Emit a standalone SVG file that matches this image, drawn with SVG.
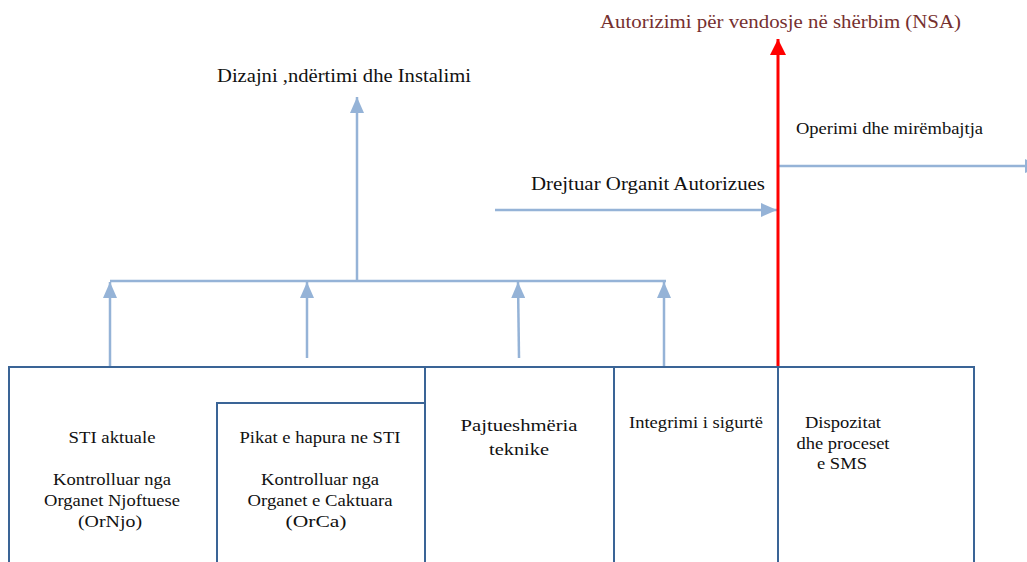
<svg xmlns="http://www.w3.org/2000/svg" width="1027" height="562" viewBox="0 0 1027 562">
<style>
.box{fill:none;stroke:#3A6496;stroke-width:2}
.con{fill:none;stroke:#95B3D7;stroke-width:2.5}
.red{fill:none;stroke:#FF0000;stroke-width:3}
.t{font-family:"Liberation Serif","Times New Roman",serif;font-size:17px;fill:#111;text-anchor:middle}
.lab{font-family:"Liberation Serif","Times New Roman",serif;font-size:18px;fill:#111}
.title{font-family:"Liberation Serif","Times New Roman",serif;font-size:18px;fill:#76302F}
</style>
<defs>
<marker id="ab" viewBox="0 0 16 14" refX="16" refY="7" markerWidth="16" markerHeight="14" markerUnits="userSpaceOnUse" orient="auto">
<path d="M0,0 L16,7 L0,14 Z" fill="#95B3D7"/>
</marker>
<marker id="ar" viewBox="0 0 16 16" refX="16" refY="8" markerWidth="16" markerHeight="16" markerUnits="userSpaceOnUse" orient="auto">
<path d="M0,0 L16,8 L0,16 Z" fill="#FF0000"/>
</marker>
</defs>
<rect width="1027" height="562" fill="#fff"/>

<g id="connectors">
<path class="con" d="M110,281 H666"/>
<path class="con" d="M110,367 V282" marker-end="url(#ab)"/>
<path class="con" d="M307,358 V282" marker-end="url(#ab)"/>
<path class="con" d="M519,358 L518,282" marker-end="url(#ab)"/>
<path class="con" d="M664,367 V282" marker-end="url(#ab)"/>
<path class="con" d="M357,281 V97" marker-end="url(#ab)"/>
<path class="con" d="M495,210 H777" marker-end="url(#ab)"/>
<path class="con" d="M779,166 H1041" marker-end="url(#ab)"/>
<path class="red" d="M778,367 V39" marker-end="url(#ar)"/>
</g>

<g id="node-sti-aktuale">
<path class="box" d="M9,600 V367 H425 V600"/>
<text class="t" x="112" y="443" textLength="87" lengthAdjust="spacingAndGlyphs">STI aktuale</text>
<text class="t" x="112" y="485" textLength="118" lengthAdjust="spacingAndGlyphs">Kontrolluar nga</text>
<text class="t" x="112" y="506" textLength="136" lengthAdjust="spacingAndGlyphs">Organet Njoftuese</text>
<text class="t" x="110" y="527" textLength="64" lengthAdjust="spacingAndGlyphs">(OrNjo)</text>
</g>

<g id="node-pikat">
<path class="box" d="M217,600 V403 H425 V600"/>
<text class="t" x="320" y="443" textLength="161" lengthAdjust="spacingAndGlyphs">Pikat e hapura ne STI</text>
<text class="t" x="320" y="485" textLength="118" lengthAdjust="spacingAndGlyphs">Kontrolluar nga</text>
<text class="t" x="320" y="506" textLength="145" lengthAdjust="spacingAndGlyphs">Organet e Caktuara</text>
<text class="t" x="316" y="527" textLength="61" lengthAdjust="spacingAndGlyphs">(OrCa)</text>
</g>

<g id="node-pajtueshmeria">
<path class="box" d="M425,600 V367 H614 V600"/>
<text class="t" x="519" y="431" textLength="117" lengthAdjust="spacingAndGlyphs">Pajtueshmëria</text>
<text class="t" x="519" y="455" textLength="60" lengthAdjust="spacingAndGlyphs">teknike</text>
</g>

<g id="node-integrimi">
<path class="box" d="M614,600 V367 H778 V600"/>
<text class="t" x="696" y="428" textLength="134" lengthAdjust="spacingAndGlyphs">Integrimi i sigurtë</text>
</g>

<g id="node-dispozitat">
<path class="box" d="M778,600 V367 H974 V600"/>
<text class="t" x="843" y="428" textLength="76" lengthAdjust="spacingAndGlyphs">Dispozitat</text>
<text class="t" x="843" y="449" textLength="93" lengthAdjust="spacingAndGlyphs">dhe proceset</text>
<text class="t" x="842" y="469" textLength="50" lengthAdjust="spacingAndGlyphs">e SMS</text>
</g>

<g id="labels">
<text class="lab" x="217" y="82" textLength="254" lengthAdjust="spacingAndGlyphs">Dizajni ,ndërtimi dhe Instalimi</text>
<text class="lab" x="531" y="190" textLength="234" lengthAdjust="spacingAndGlyphs">Drejtuar Organit Autorizues</text>
<text class="lab" x="796" y="134" style="font-size:16px" textLength="187" lengthAdjust="spacingAndGlyphs">Operimi dhe mirëmbajtja</text>
<text class="title" x="600" y="28" textLength="361" lengthAdjust="spacingAndGlyphs">Autorizimi për vendosje në shërbim (NSA)</text>
</g>
</svg>
